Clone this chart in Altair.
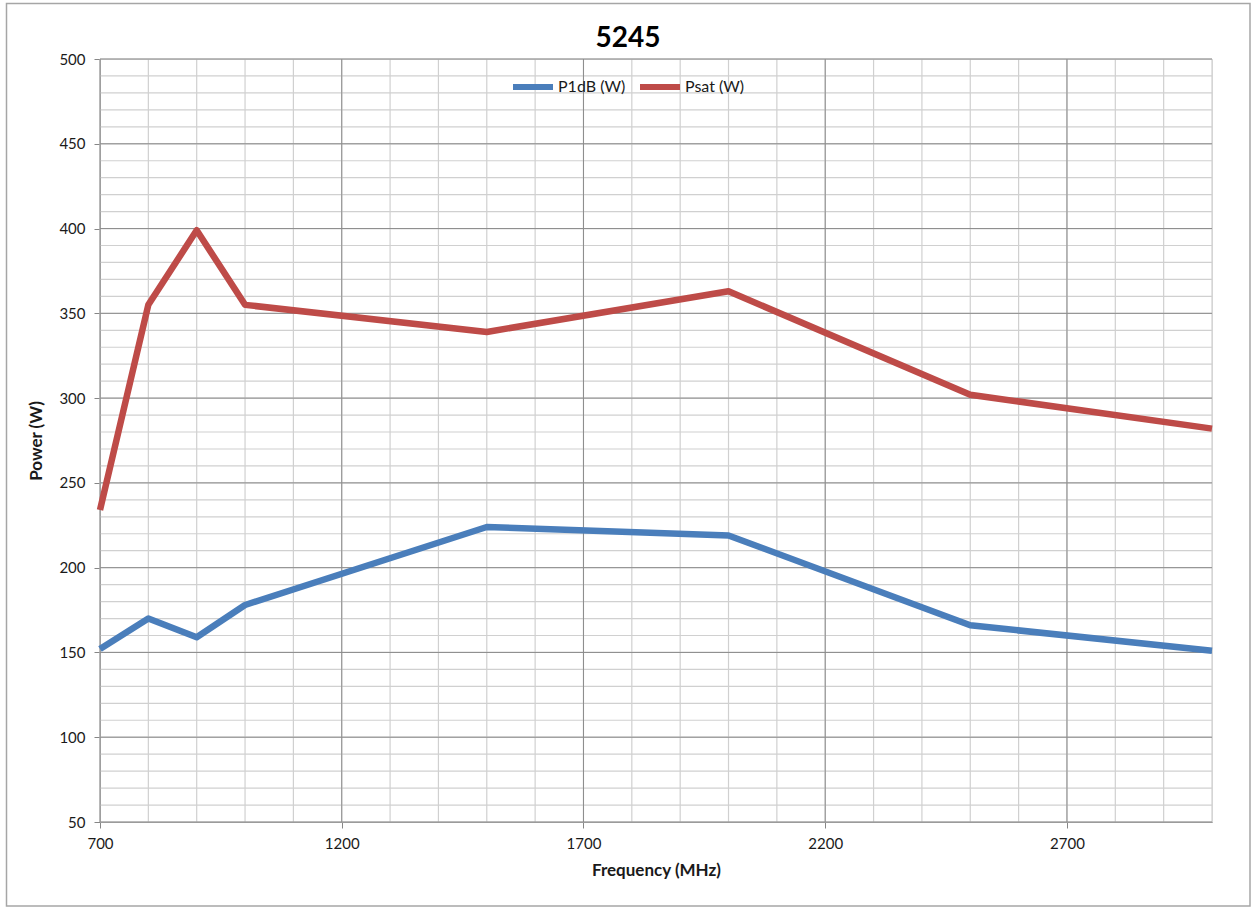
import altair as alt
import pandas as pd

# ---- data ----
freq = [700, 800, 900, 1000, 1500, 2000, 2500, 3000]
p1db = [152, 170, 159, 178, 224, 219, 166, 151]
psat = [234, 355, 399, 355, 339, 363, 302, 282]
series_names = ["P1dB (W)", "Psat (W)"]
series_colors = ["#4a7ebb", "#be4b48"]
chart_title = "5245"

x_ticks = [700, 1200, 1700, 2200, 2700]
y_ticks = [50, 100, 150, 200, 250, 300, 350, 400, 450, 500]
x_minor = list(range(700, 3001, 100))
y_minor = list(range(50, 501, 10))

FONT = "Lato"

rows = []
for f, a, b in zip(freq, p1db, psat):
    rows.append({"freq": f, "power": a, "series": series_names[0]})
    rows.append({"freq": f, "power": b, "series": series_names[1]})
df = pd.DataFrame(rows)

xs = alt.Scale(domain=[700, 3000], nice=False, zero=False)
ys = alt.Scale(domain=[50, 500], nice=False, zero=False)

x_axis = alt.Axis(
    values=x_ticks, grid=False, title="Frequency (MHz)", format="d",
    labelFlush=False, labelOverlap=False,
    domainColor="#868686", tickColor="#868686", tickSize=6,
    labelFont=FONT, labelFontSize=15, labelColor="#1a1a1a",
    labelPadding=8, titleFont=FONT, titleFontSize=17,
    titleFontWeight="bold", titleColor="#1a1a1a", titlePadding=11,
)
y_axis = alt.Axis(
    values=y_ticks, grid=False, title="Power (W)", format="d",
    labelFlush=False, labelOverlap=False,
    domainColor="#868686", tickColor="#868686", tickSize=6,
    labelFont=FONT, labelFontSize=15, labelColor="#1a1a1a",
    labelPadding=9, titleFont=FONT, titleFontSize=17,
    titleFontWeight="bold", titleColor="#1a1a1a", titlePadding=13,
)

minor_v = alt.Chart(pd.DataFrame({"v": x_minor})).mark_rule(
    color="#d0d0d0", strokeWidth=1.2
).encode(x=alt.X("v:Q", scale=xs, axis=x_axis, title="Frequency (MHz)"))
minor_h = alt.Chart(pd.DataFrame({"v": y_minor})).mark_rule(
    color="#d0d0d0", strokeWidth=1.2
).encode(y=alt.Y("v:Q", scale=ys, axis=y_axis, title="Power (W)"))
major_v = alt.Chart(pd.DataFrame({"v": x_ticks})).mark_rule(
    color="#8c8c8c", strokeWidth=1
).encode(x=alt.X("v:Q", scale=xs, axis=x_axis, title="Frequency (MHz)"))
major_h = alt.Chart(pd.DataFrame({"v": y_ticks})).mark_rule(
    color="#8c8c8c", strokeWidth=1
).encode(y=alt.Y("v:Q", scale=ys, axis=y_axis, title="Power (W)"))

lines = alt.Chart(df).mark_line(
    strokeWidth=6.5, strokeJoin="round", strokeCap="butt"
).encode(
    x=alt.X("freq:Q", scale=xs, axis=x_axis, title="Frequency (MHz)"),
    y=alt.Y("power:Q", scale=ys, axis=y_axis, title="Power (W)"),
    color=alt.Color(
        "series:N",
        scale=alt.Scale(domain=series_names, range=series_colors),
        legend=alt.Legend(
            title=None, orient="none", direction="horizontal",
            legendX=410, legendY=5, symbolType="stroke",
            symbolSize=1600, symbolStrokeWidth=6, labelFont=FONT,
            labelFontSize=16, labelColor="#1a1a1a", labelOffset=2,
            columnPadding=2, padding=0,
        ),
    ),
    order=alt.Order("freq:Q"),
)

title_text = alt.Chart(pd.DataFrame({"t": [chart_title]})).mark_text(
    font=FONT, fontSize=28, fontWeight="bold", color="#000000",
    align="center", baseline="alphabetic",
).encode(text="t:N", x=alt.value(528), y=alt.value(-12))

frame = alt.Chart(pd.DataFrame({"a": [0]})).mark_rect(
    fill=None, stroke="#a6a6a6", strokeWidth=1.5
).encode(
    x=alt.value(-93.5), x2=alt.value(1150), y=alt.value(-55.5), y2=alt.value(847)
)

chart = alt.layer(minor_v, minor_h, major_v, major_h, lines, title_text, frame).properties(
    width=1112,
    height=763,
    padding={"left": 100, "top": 59, "right": 39, "bottom": 85},
    autosize=alt.AutoSizeParams(type="none"),
).configure_view(stroke=None).configure(background="white")

chart.save("out.html", embed_options={"renderer": "svg", "actions": False})
